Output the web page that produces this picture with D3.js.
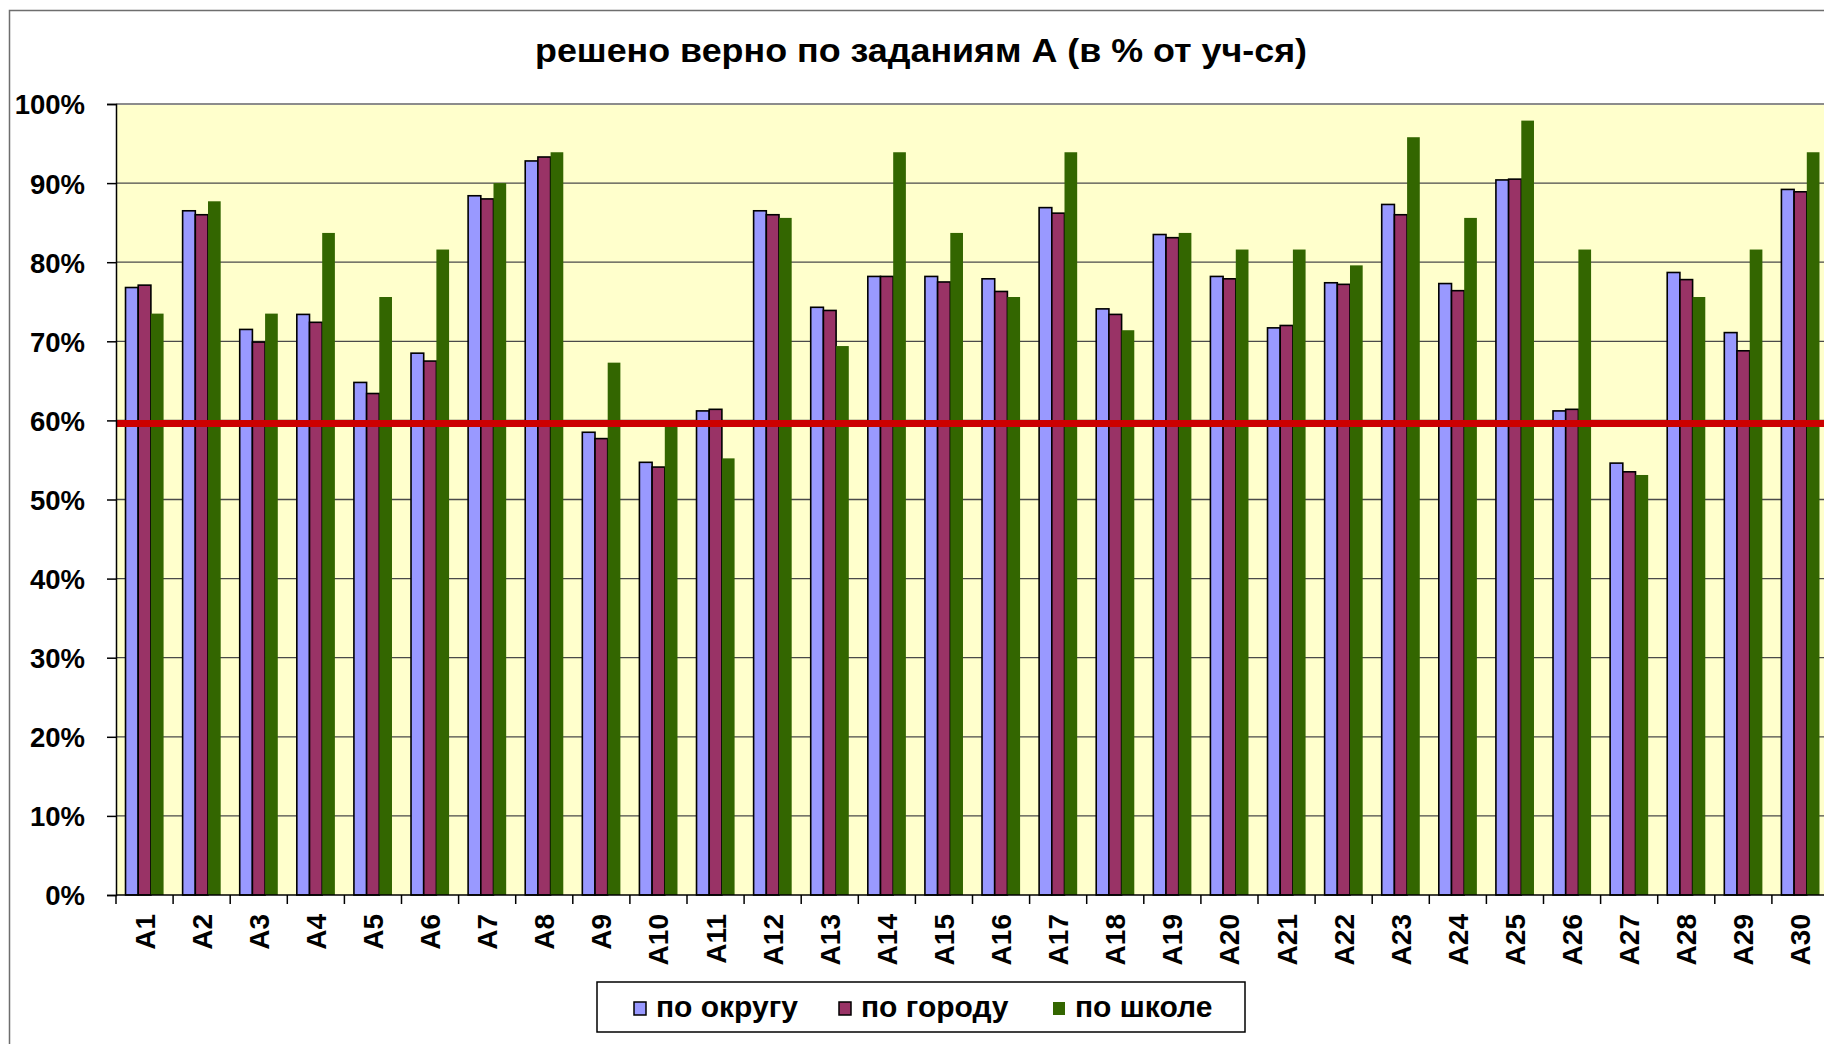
<!DOCTYPE html>
<html>
<head>
<meta charset="utf-8">
<script src="https://cdn.jsdelivr.net/npm/d3@7"></script>
<style>
  html, body { margin: 0; padding: 0; background: #fff; }
  svg text { font-family: "Liberation Sans", Arial, sans-serif; font-weight: bold; fill: #000; }
</style>
</head>
<body>
<script>
const w = 1824;
const h = 1044;

const title = "решено верно по заданиям А (в % от уч-ся)";
const categories = ["A1","A2","A3","A4","A5","A6","A7","A8","A9","A10",
    "A11","A12","A13","A14","A15","A16","A17","A18","A19","A20",
    "A21","A22","A23","A24","A25","A26","A27","A28","A29","A30"];
const seriesNames = ["по округу", "по городу", "по школе"];
const seriesColors = ["#9999FF", "#993366", "#336600"];

// values in %
const poOkrugu = [76.8, 86.5, 71.5, 73.4, 64.8, 68.5, 88.4, 92.8, 58.5, 54.7,
    61.2, 86.5, 74.3, 78.2, 78.2, 77.9, 86.9, 74.1, 83.5, 78.2,
    71.7, 77.4, 87.3, 77.3, 90.4, 61.2, 54.6, 78.7, 71.1, 89.2];
const poGorodu = [77.1, 86.0, 69.9, 72.4, 63.4, 67.5, 88.0, 93.3, 57.7, 54.1,
    61.4, 86.0, 73.9, 78.2, 77.5, 76.3, 86.2, 73.4, 83.1, 77.9,
    72.0, 77.2, 86.0, 76.4, 90.5, 61.4, 53.5, 77.8, 68.8, 88.9];
const poShkole = [73.5, 87.7, 73.5, 83.7, 75.6, 81.6, 90.0, 93.9, 67.3, 59.7,
    55.2, 85.6, 69.4, 93.9, 83.7, 75.6, 93.9, 71.4, 83.7, 81.6,
    81.6, 79.6, 95.8, 85.6, 97.9, 81.6, 53.1, 75.6, 81.6, 93.9];
const threshold = 59.6;
const yTicks = [0, 10, 20, 30, 40, 50, 60, 70, 80, 90, 100];

const plotLeft = 116;
const plotTop = 104;
const plotBottom = 895;
const bandW = 57.1;
const plotRight = plotLeft + bandW * categories.length;

const svg = d3.select("body")
    .append("svg")
    .attr("width", w)
    .attr("height", h);

// chart frame
svg.append("rect")
    .attr("x", 9.5).attr("y", 10.5)
    .attr("width", w + 20).attr("height", h + 20)
    .attr("fill", "#fff")
    .attr("stroke", "#6e6e6e")
    .attr("stroke-width", 1.5);

svg.append("text")
    .attr("x", 921)
    .attr("y", 62)
    .attr("text-anchor", "middle")
    .attr("font-size", 33)
    .attr("textLength", 772)
    .attr("lengthAdjust", "spacingAndGlyphs")
    .text(title);

const x = d3.scaleBand()
    .domain(categories)
    .range([plotLeft, plotRight])
    .padding(0);

const xSub = d3.scaleBand()
    .domain(seriesNames)
    .range([0, x.bandwidth()])
    .paddingInner(0)
    .paddingOuter(0.75);

const y = d3.scaleLinear()
    .domain([0, 100])
    .range([plotBottom, plotTop]);

// plot area
svg.append("rect")
    .attr("x", plotLeft)
    .attr("y", y(100))
    .attr("width", plotRight - plotLeft)
    .attr("height", y(0) - y(100))
    .attr("fill", "#FFFFCC");

// gridlines
svg.append("g")
    .selectAll("line")
    .data(yTicks.filter(d => d > 0 && d < 100))
    .enter()
    .append("line")
    .attr("x1", plotLeft).attr("x2", plotRight)
    .attr("y1", d => y(d)).attr("y2", d => y(d))
    .attr("stroke", "#4a4a4a")
    .attr("stroke-width", 1.3);

svg.append("line")
    .attr("x1", plotLeft).attr("x2", plotRight)
    .attr("y1", y(100)).attr("y2", y(100))
    .attr("stroke", "#8c8c8c")
    .attr("stroke-width", 2);

// bars
const rows = categories.map((c, i) => ({
    cat: c,
    vals: [poOkrugu[i], poGorodu[i], poShkole[i]]
}));

const groups = svg.append("g")
    .selectAll("g")
    .data(rows)
    .enter()
    .append("g")
    .attr("transform", d => `translate(${x(d.cat)},0)`);

groups.selectAll("rect")
    .data(d => d.vals.map((v, k) => ({ name: seriesNames[k], k: k, v: v })))
    .enter()
    .append("rect")
    .attr("x", d => xSub(d.name))
    .attr("y", d => y(d.v))
    .attr("width", xSub.bandwidth())
    .attr("height", d => y(0) - y(d.v))
    .attr("fill", d => seriesColors[d.k])
    .attr("stroke", d => d.k < 2 ? "#000" : "none")
    .attr("stroke-width", 1.6);

// threshold line
svg.append("line")
    .attr("x1", plotLeft).attr("x2", plotRight)
    .attr("y1", y(threshold)).attr("y2", y(threshold))
    .attr("stroke", "#CC0000")
    .attr("stroke-width", 7);

// y axis
const yAxis = d3.axisLeft(y)
    .tickValues(yTicks)
    .tickSize(9)
    .tickPadding(22)
    .tickFormat(d => d + "%");

const yg = svg.append("g")
    .attr("transform", `translate(${plotLeft},0)`)
    .call(yAxis);
yg.select(".domain").attr("stroke", "#000").attr("stroke-width", 1.5);
yg.selectAll(".tick line").attr("stroke", "#000").attr("stroke-width", 1.5);
yg.selectAll(".tick text")
    .attr("font-size", 27.5)
    .attr("font-family", "Liberation Sans, Arial, sans-serif")
    .attr("font-weight", "bold")
    .attr("dy", "0.36em");

// x axis: ticks at category boundaries
const xg = svg.append("g")
    .attr("transform", `translate(0,${plotBottom})`);
xg.append("line")
    .attr("x1", plotLeft).attr("x2", plotRight)
    .attr("stroke", "#000").attr("stroke-width", 1.5);
xg.selectAll("line.tk")
    .data(categories)
    .enter()
    .append("line")
    .attr("class", "tk")
    .attr("x1", d => x(d)).attr("x2", d => x(d))
    .attr("y1", 0).attr("y2", 9)
    .attr("stroke", "#000").attr("stroke-width", 1.5);
xg.selectAll("text")
    .data(categories)
    .enter()
    .append("text")
    .attr("transform", d => `translate(${x(d) + x.bandwidth() / 2 + 10},19) rotate(-90)`)
    .attr("text-anchor", "end")
    .attr("font-size", 28)
    .text(d => d);

// legend
const legend = svg.append("g");
legend.append("rect")
    .attr("x", 597).attr("y", 982)
    .attr("width", 648).attr("height", 50)
    .attr("fill", "#fff")
    .attr("stroke", "#000")
    .attr("stroke-width", 1.5);

const legendX = [634, 839, 1053];
const items = legend.selectAll("g")
    .data(seriesNames)
    .enter()
    .append("g")
    .attr("transform", (d, i) => `translate(${legendX[i]},1002)`);
items.append("rect")
    .attr("width", 12).attr("height", 13)
    .attr("fill", (d, i) => seriesColors[i])
    .attr("stroke", (d, i) => i < 2 ? "#000" : "none")
    .attr("stroke-width", 1.5);
items.append("text")
    .attr("x", 22)
    .attr("y", 15)
    .attr("font-size", 30)
    .text(d => d);
</script>
</body>
</html>
